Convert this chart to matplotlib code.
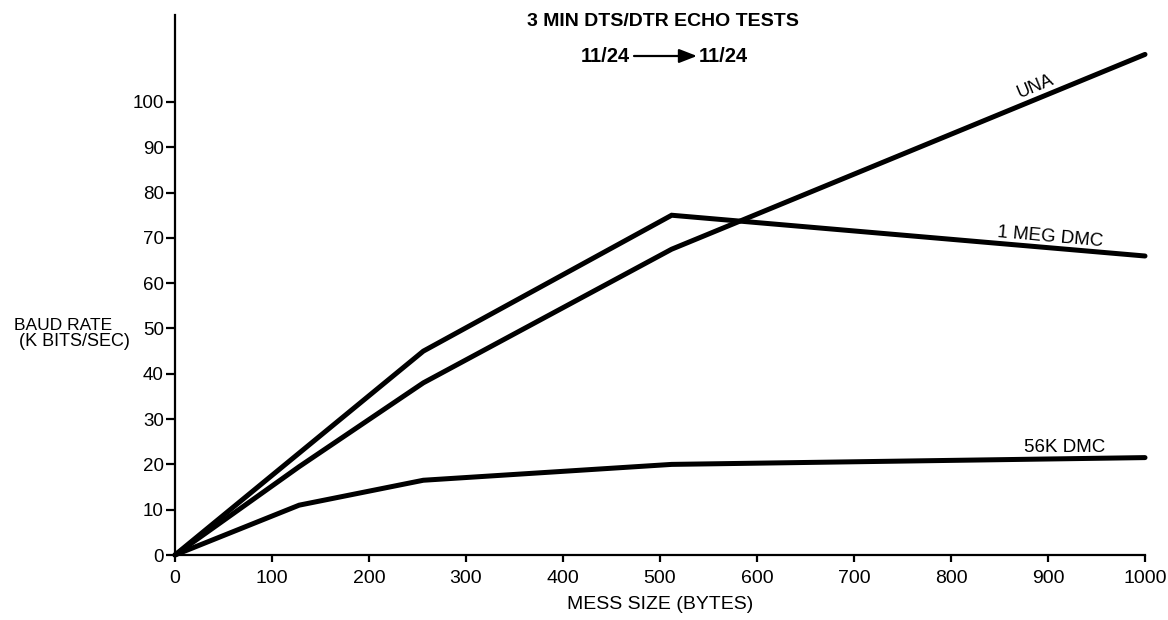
import matplotlib
matplotlib.use("Agg")
import matplotlib.pyplot as plt

plt.rcParams['font.family'] = ['Liberation Sans', 'DejaVu Sans']

msg_size = [0, 128, 256, 512, 1000]
una = [0, 19.5, 38, 67.5, 110.5]
meg_dmc = [0, 22.5, 45, 75, 66]
k56_dmc = [0, 11, 16.5, 20, 21.5]

x_ticks = [0, 100, 200, 300, 400, 500, 600, 700, 800, 900, 1000]
y_ticks = [0, 10, 20, 30, 40, 50, 60, 70, 80, 90, 100]

W, H = 1168, 620
fig = plt.figure(figsize=(W / 100, H / 100), dpi=100)
ax = fig.add_axes([175 / W, 1 - 555 / H, 970 / W, 540 / H])

lw = 3.6
for ys in (una, meg_dmc, k56_dmc):
    ax.plot(msg_size, ys, color='black', lw=lw, solid_capstyle='round',
            solid_joinstyle='miter', clip_on=False)

ax.set_xlim(0, 1000)
ax.set_ylim(0, 119.2)
ax.spines['top'].set_visible(False)
ax.spines['right'].set_visible(False)
ax.spines['left'].set_linewidth(1.6)
ax.spines['bottom'].set_linewidth(1.6)
ax.set_xticks(x_ticks)
ax.set_yticks(y_ticks)
ax.tick_params(axis='x', direction='out', length=5, width=1.6, labelsize=14, pad=6)
ax.tick_params(axis='y', direction='out', length=6.5, width=1.6, labelsize=13.5, pad=1.5)

ax.set_xlabel('MESS SIZE (BYTES)', fontsize=14, labelpad=6)

fig.text(63 / W, 1 - 325 / H, 'BAUD RATE', ha='center', va='center', fontsize=12.5)
fig.text(74 / W, 1 - 341.5 / H, '(K BITS/SEC)', ha='center', va='center', fontsize=13)

fig.text(663 / W, 1 - 21 / H, '3 MIN DTS/DTR ECHO TESTS', ha='center', va='center',
         fontsize=14, fontweight='bold')
fig.text(605 / W, 1 - 56 / H, '11/24', ha='center', va='center',
         fontsize=14.5, fontweight='bold')
fig.text(723 / W, 1 - 56 / H, '11/24', ha='center', va='center',
         fontsize=14.5, fontweight='bold')
fig.add_artist(plt.matplotlib.patches.FancyArrowPatch(
    (634 / W, 1 - 56 / H), (697 / W, 1 - 56 / H), transform=fig.transFigure,
    arrowstyle='-|>,head_length=0.9,head_width=0.35', mutation_scale=12,
    lw=1.6, color='black', shrinkA=0, shrinkB=0))

ax.text(887, 103.5, 'UNA', rotation=22.5, fontsize=13, ha='center', va='center',
        rotation_mode='anchor')
ax.text(902, 70.2, '1 MEG DMC', rotation=-5, fontsize=13.5, ha='center', va='center',
        rotation_mode='anchor')
ax.text(917, 23.8, '56K DMC', rotation=0, fontsize=13.5, ha='center', va='center')

fig.savefig('out.png', dpi=100)
